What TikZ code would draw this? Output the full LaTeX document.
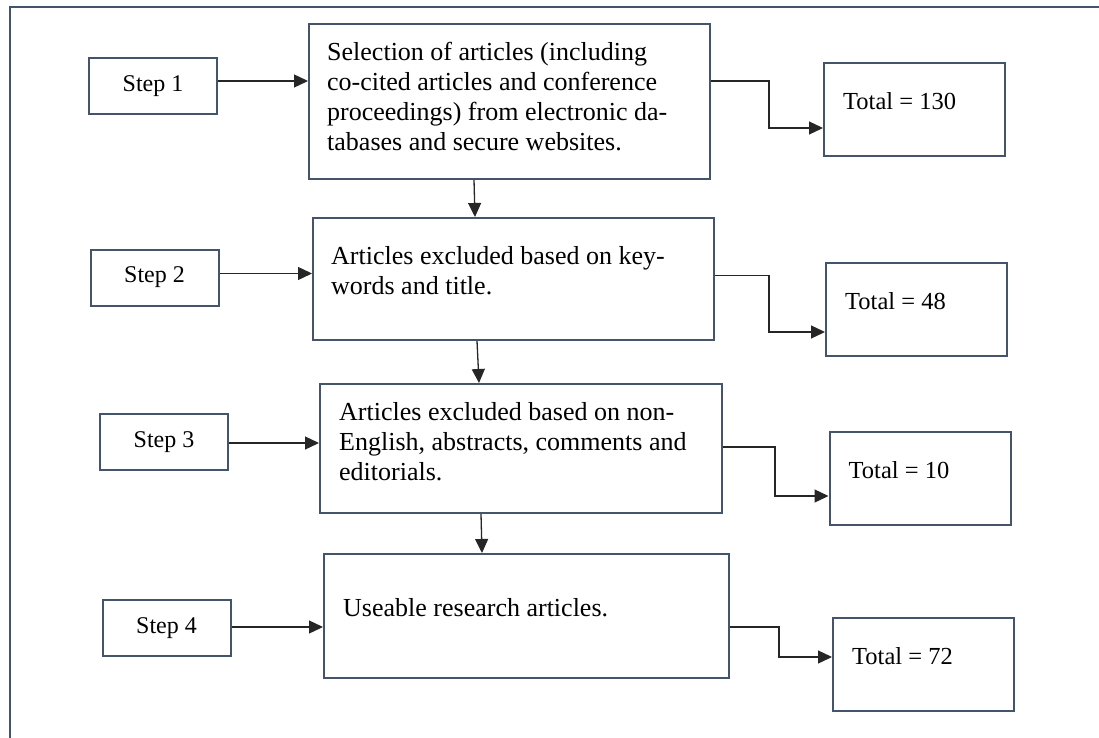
\documentclass[tikz,border=0pt]{standalone}
\usepackage{fontspec}
\setmainfont{Liberation Serif}
\usetikzlibrary{arrows.meta,calc}
\definecolor{frame}{HTML}{44546A}
\tikzset{
  box/.style={draw=frame, line width=2pt, rectangle, inner sep=0pt},
  stepbox/.style={box, minimum width=128pt, minimum height=56pt, font=\fontsize{24}{30}\selectfont},
  mainbox/.style={box},
  totbox/.style={box, minimum width=181pt, minimum height=93pt},
  txt/.style={anchor=west, align=left, inner sep=0pt, font=\fontsize{26}{30}\selectfont},
  ttxt/.style={anchor=west, align=left, inner sep=0pt, font=\fontsize{24.5}{30}\selectfont},
  conn/.style={draw=black!85, line width=1.3pt, -{Triangle[length=14pt,width=13pt]}}
}
\begin{document}
\begin{tikzpicture}[x=1pt,y=-1pt]
\useasboundingbox (0,0) rectangle (1099,738);
\draw[frame, line width=2pt] (10,738) -- (10,7) -- (1099,7);

% step boxes
\node[stepbox] (s1) at (153,86) {Step 1};
\node[stepbox] (s2) at (154.5,277.5) {Step 2};
\node[stepbox] (s3) at (164,442) {Step 3};
\node[stepbox] (s4) at (166.5,628) {Step 4};

% main boxes
\node[mainbox, minimum width=401pt, minimum height=155pt] (m1) at (509.5,101.5) {};
\node[mainbox, minimum width=401pt, minimum height=122pt] (m2) at (513.5,279) {};
\node[mainbox, minimum width=402pt, minimum height=129pt] (m3) at (521,448.5) {};
\node[mainbox, minimum width=405pt, minimum height=124pt] (m4) at (526.5,616) {};

\node[txt] (mt1) at ([xshift=19pt,yshift=5pt]m1.west) {Selection of articles (including\\co-cited articles and conference\\proceedings) from electronic da-\\tabases and secure websites.};
\node[txt] (mt2) at ([xshift=19pt,yshift=8pt]m2.west) {Articles excluded based on key-\\words and title.};
\node[txt] (mt3) at ([xshift=20pt,yshift=7pt]m3.west) {Articles excluded based on non-\\English, abstracts, comments and\\editorials.};
\node[txt] (mt4) at ([xshift=20pt,yshift=8pt]m4.west) {Useable research articles.};

% total boxes
\node[totbox] (T1) at (914.5,109.5) {};
\node[totbox] (T2) at (916.5,309.5) {};
\node[totbox] (T3) at (920,478.5) {};
\node[totbox] (T4) at (923.5,664.5) {};

\node[ttxt] (tt1) at ([xshift=20pt,yshift=8pt]T1.west) {Total = 130};
\node[ttxt] (tt2) at ([xshift=20pt,yshift=8pt]T2.west) {Total = 48};
\node[ttxt] (tt3) at ([xshift=20pt,yshift=8pt]T3.west) {Total = 10};
\node[ttxt] (tt4) at ([xshift=20pt,yshift=8pt]T4.west) {Total = 72};

% step arrows
\coordinate (a1) at ([yshift=5pt]s1.east);
\coordinate (a2) at ([yshift=4pt]s2.east);
\coordinate (a3) at ([yshift=-1pt]s3.east);
\coordinate (a4) at ([yshift=1pt]s4.east);
\draw[conn] (a1) -- (a1 -| m1.west);
\draw[conn] (a2) -- (a2 -| m2.west);
\draw[conn] (a3) -- (a3 -| m3.west);
\draw[conn] (a4) -- (a4 -| m4.west);

% elbow arrows to totals
\draw[conn] (a1 -| m1.east) -- ++(58,0) |- ([yshift=-18.5pt]T1.west);
\draw[conn] ([yshift=-2pt]a2 -| m2.east) -- ++(54,0) |- ([yshift=-22.5pt]T2.west);
\draw[conn] ([yshift=-4pt]a3 -| m3.east) -- ++(52,0) |- ([yshift=-17.5pt]T3.west);
\draw[conn] (a4 -| m4.east) -- ++(49,0) |- ([yshift=7.5pt]T4.west);

% vertical arrows
\draw[conn] ($(m1.south west)+(166,0)$) -- ($(m2.north west)+(163,0)$);
\draw[conn] ($(m2.south west)+(165,0)$) -- ($(m3.north west)+(160,0)$);
\draw[conn] ($(m3.south west)+(162,0)$) -- ($(m4.north west)+(159,0)$);
\end{tikzpicture}
\end{document}
